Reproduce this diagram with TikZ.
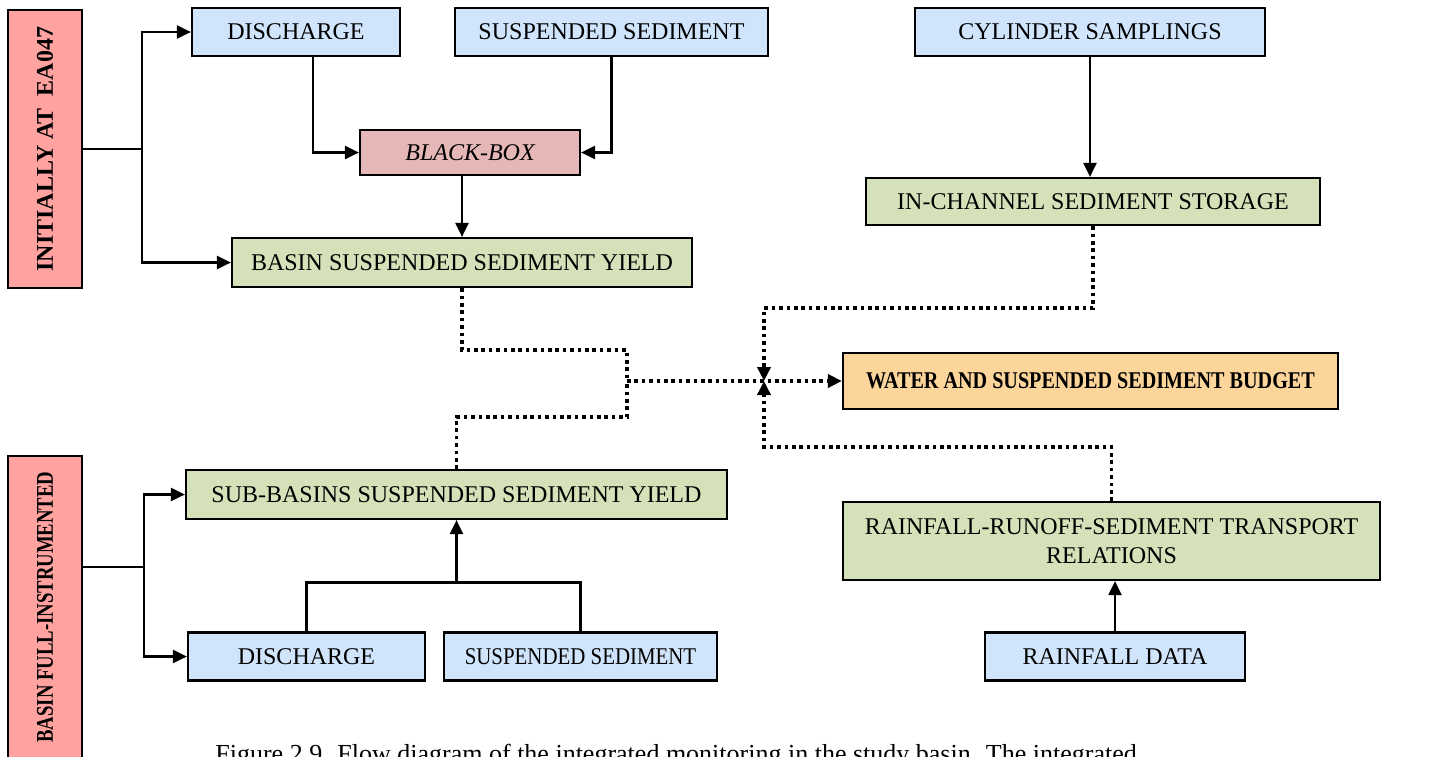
\documentclass[tikz,border=0pt]{standalone}
\usepackage{fontspec}
\setmainfont{Liberation Serif}
\usetikzlibrary{arrows.meta}
\definecolor{skyblue}{RGB}{208,228,251}
\definecolor{sage}{RGB}{212,225,185}
\definecolor{rosy}{RGB}{229,184,183}
\definecolor{salmon}{RGB}{255,162,160}
\definecolor{peach}{RGB}{252,213,155}
\tikzset{
  box/.style={draw, line width=1.1pt, inner sep=0pt, align=center,
    font=\fontsize{12}{14.5}\selectfont},
  bluebox/.style={box, fill=skyblue, minimum height=24pt},
  greenbox/.style={box, fill=sage},
  sidebox/.style={box, fill=salmon, rotate=90, minimum height=37pt,
    font=\fontsize{12}{14.5}\selectfont\bfseries},
  arr/.style={line width=1.1pt, -{Triangle[length=7pt, width=6.5pt]}},
  dotline/.style={line width=1.8pt, dash pattern=on 1.8pt off 1.9pt},
}
\begin{document}
\begin{tikzpicture}[x=0.5pt, y=-0.5pt]
  \useasboundingbox (0,0) rectangle (1446,756);
  % side labels
  \node[sidebox, minimum width=139pt] (early) at (45,149) {INITIALLY AT\ \ EA047};
  \node[sidebox, minimum width=151pt] (full) at (45,607) {\scalebox{0.78}[1]{BASIN FULL-INSTRUMENTED}};
  % data boxes
  \foreach \nm/\cx/\cy/\bw/\txt in {discA/296/32/104/DISCHARGE,
      ssA/611.5/32/156.5/SUSPENDED SEDIMENT, cyl/1090/32/175/CYLINDER SAMPLINGS,
      discB/306.5/656.5/118.5/DISCHARGE, ssB/580.5/656.5/136.5/{\scalebox{0.87}[1]{SUSPENDED SEDIMENT}},
      rain/1115/656.5/130/RAINFALL DATA} {
    \node[bluebox, minimum width=\bw pt] (\nm) at (\cx,\cy) {\txt};
  }
  \foreach \nm/\cx/\cy/\bw/\bh/\txt in {bssy/462/262.5/230/24.5/BASIN SUSPENDED SEDIMENT YIELD,
      inch/1093/201.5/227/23.5/IN-CHANNEL SEDIMENT STORAGE,
      subssy/456.5/494.5/270.5/24.5/SUB-BASINS SUSPENDED SEDIMENT YIELD,
      rrst/1111.5/541/268.5/39/{RAINFALL-RUNOFF-SEDIMENT TRANSPORT\\RELATIONS}} {
    \node[greenbox, minimum width=\bw pt, minimum height=\bh pt] (\nm) at (\cx,\cy) {\txt};
  }
  \node[box, fill=rosy, minimum width=110pt, minimum height=22.5pt] (bbox) at (470,152.5) {\itshape BLACK-BOX};
  \node[box, fill=peach, minimum width=247.5pt, minimum height=28pt] (budget) at (1090.5,381)
    {\bfseries\scalebox{0.84}[1]{WATER AND SUSPENDED SEDIMENT BUDGET}};
  \node[anchor=base west, inner sep=0pt, font=\fontsize{13}{15}\selectfont] (caption) at (215,762)
    {Figure 2.9. Flow diagram of the integrated monitoring in the study basin. The integrated};
  % solid links
  \coordinate (jA) at (142,149);
  \coordinate (jB) at (144,567);
  \draw[line width=1.1pt] (early.south) -- (jA);
  \draw[arr] (jA) |- (discA);
  \draw[arr] (jA) |- (bssy);
  \draw[line width=1.1pt] (jB -| full.south) -- (jB);
  \draw[arr] (jB) |- (subssy);
  \draw[arr] (jB) |- (discB);
  \draw[arr] ([xshift=8.5pt]discA.south) |- (bbox);
  \draw[arr] (ssA.south) |- (bbox);
  \draw[arr] (bbox.south -| bssy.north) -- (bssy.north);
  \draw[arr] (cyl.south) -- (cyl.south |- inch.north);
  \draw[line width=1.1pt] (discB.north) -- ++(0,-49) coordinate (tree) -| (ssB.north);
  \draw[arr] (tree -| subssy.south) -- (subssy.south);
  \draw[arr] (rain.north) -- (rain.north |- rrst.south);
  % dotted links to the budget
  \coordinate (mid) at (627,381);
  \coordinate (hub) at (764,381);
  \draw[dotline] (bssy.south) -- ++(0,62) -| (mid);
  \draw[dotline] (subssy.north) -- ++(0,-52) -| (mid);
  \draw[arr, dotline] (mid) -- (budget.west);
  \draw[arr, dotline] (inch.south) -- ++(0,82) -| (hub);
  \draw[arr, dotline] (rrst.north) -- ++(0,-54) -| (hub);
\end{tikzpicture}
\end{document}
